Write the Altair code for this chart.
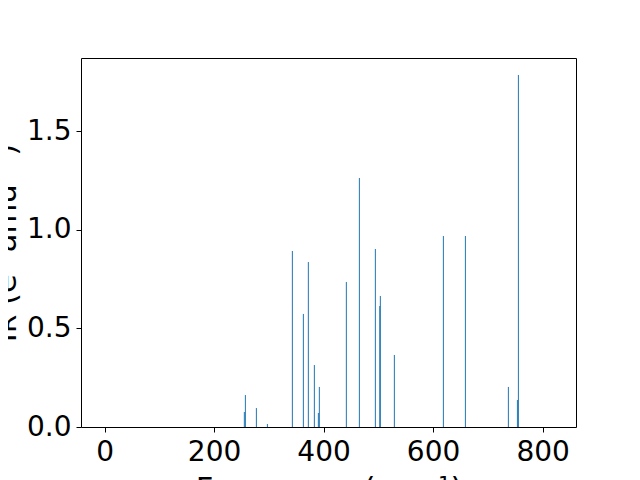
import altair as alt
import pandas as pd

frequency = [255.3, 257.2, 277.3, 297.4, 343.0, 363.1, 372.2, 383.2, 390.5, 392.3,
             441.6, 465.4, 494.6, 502.6, 503.7, 529.3, 618.8, 659.0, 737.5, 754.0, 755.8]
intensity = [0.076, 0.162, 0.096, 0.015, 0.892, 0.573, 0.836, 0.314, 0.071, 0.203,
             0.735, 1.262, 0.902, 0.613, 0.664, 0.365, 0.968, 0.968, 0.203, 0.137, 1.784]

x_ticks = [0, 200, 400, 600, 800]
y_ticks = [0.0, 0.5, 1.0, 1.5]

df = pd.DataFrame({"freq": frequency, "ir": intensity})

font = "DejaVu Sans"
title_size = 30.6

chart = alt.Chart(df).mark_rule(color="#1f77b4", strokeWidth=1).encode(
    x=alt.X("freq:Q",
            scale=alt.Scale(domain=[-43, 861], nice=False, zero=False),
            axis=alt.Axis(values=x_ticks, format="d", title="Frequency (cm⁻¹)",
                          titleFontSize=title_size, titleFont=font, titleFontWeight="normal",
                          titleColor="black", titleBaseline="alphabetic", titleY=71,
                          labelFontSize=28, labelFont=font, labelColor="black",
                          tickSize=5, tickColor="black", tickWidth=1, labelPadding=6,
                          domain=False, grid=False, labelFlush=False)),
    y=alt.Y("ir:Q",
            scale=alt.Scale(domain=[0, 1.87], nice=False),
            axis=alt.Axis(values=y_ticks, format=".1f", title="Iʀ (e² amu⁻¹)",
                          titleFontSize=title_size, titleFont=font, titleFontWeight="normal",
                          titleColor="black", titleBaseline="alphabetic",
                          titleX=-66, titleY=184.5, titleAngle=270, titleAlign="center",
                          labelFontSize=28, labelFont=font, labelColor="black",
                          tickSize=5, tickColor="black", tickWidth=1, labelPadding=5,
                          domain=False, grid=False, labelFlush=False)),
    y2=alt.datum(0),
).properties(
    width=495,
    height=369,
    autosize=alt.AutoSizeParams(type="none"),
    padding={"left": 73, "top": 50, "right": 50, "bottom": 53},
).configure_view(
    stroke="black", strokeWidth=1
)

chart.save("out.html", embed_options={"renderer": "svg", "actions": False})
